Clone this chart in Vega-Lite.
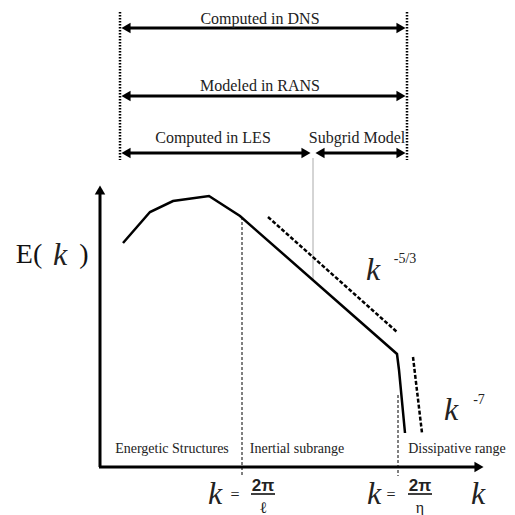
{
  "$schema": "https://vega.github.io/schema/vega-lite/v6.json",
  "width": 515,
  "height": 515,
  "autosize": "none",
  "padding": 0,
  "background": "white",
  "config": {"view": {"stroke": null}},
  "datasets": {
    "segs": [
      {"x": 120, "y": 12, "x2": 120, "y2": 160, "g": "dotted"},
      {"x": 407, "y": 12, "x2": 407, "y2": 160, "g": "dotted"},
      {"x": 128, "y": 28, "x2": 399, "y2": 28, "g": "arrow"},
      {"x": 128, "y": 96, "x2": 399, "y2": 96, "g": "arrow"},
      {"x": 128, "y": 153, "x2": 305, "y2": 153, "g": "arrow"},
      {"x": 321, "y": 153, "x2": 399, "y2": 153, "g": "arrow"},
      {"x": 313, "y": 158, "x2": 313, "y2": 279, "g": "gray"},
      {"x": 100, "y": 467, "x2": 100, "y2": 192, "g": "axis"},
      {"x": 99, "y": 467, "x2": 477, "y2": 467, "g": "axis"},
      {"x": 242, "y": 217, "x2": 242, "y2": 476, "g": "vdash"},
      {"x": 398, "y": 395, "x2": 398, "y2": 476, "g": "vdash"},
      {"x": 268, "y": 217, "x2": 397, "y2": 332, "g": "slope"},
      {"x": 413, "y": 357, "x2": 422, "y2": 433, "g": "slope"},
      {"x": 251, "y": 494, "x2": 275, "y2": 494, "g": "bar"},
      {"x": 408, "y": 494, "x2": 432, "y2": 494, "g": "bar"}
    ],
    "curve": [
      {"x": 123, "y": 243, "o": 1},
      {"x": 150, "y": 212, "o": 2},
      {"x": 173, "y": 201, "o": 3},
      {"x": 209, "y": 196, "o": 4},
      {"x": 240, "y": 216, "o": 5},
      {"x": 397, "y": 354, "o": 6},
      {"x": 399, "y": 370, "o": 7},
      {"x": 405, "y": 433, "o": 8}
    ],
    "heads": [
      {"x": 126, "y": 28, "d": "triangle-left"},
      {"x": 401, "y": 28, "d": "triangle-right"},
      {"x": 126, "y": 96, "d": "triangle-left"},
      {"x": 401, "y": 96, "d": "triangle-right"},
      {"x": 126, "y": 153, "d": "triangle-left"},
      {"x": 306, "y": 153, "d": "triangle-right"},
      {"x": 320, "y": 153, "d": "triangle-left"},
      {"x": 401, "y": 153, "d": "triangle-right"},
      {"x": 100, "y": 190, "d": "triangle-up"},
      {"x": 479, "y": 467, "d": "triangle-right"}
    ],
    "texts": [
      {"x": 260, "y": 19, "t": "Computed in DNS", "r": "top"},
      {"x": 260, "y": 86, "t": "Modeled in RANS", "r": "top"},
      {"x": 213, "y": 138, "t": "Computed in LES", "r": "top"},
      {"x": 357, "y": 138, "t": "Subgrid Model", "r": "top"},
      {"x": 172, "y": 449, "t": "Energetic Structures", "r": "region"},
      {"x": 297, "y": 449, "t": "Inertial subrange", "r": "region"},
      {"x": 457, "y": 449, "t": "Dissipative range", "r": "region"},
      {"x": 29, "y": 255, "t": "E(", "r": "big"},
      {"x": 84, "y": 255, "t": ")", "r": "big"},
      {"x": 60, "y": 255, "t": "k", "r": "k"},
      {"x": 373, "y": 270, "t": "k", "r": "k"},
      {"x": 451, "y": 410, "t": "k", "r": "k"},
      {"x": 215, "y": 494, "t": "k", "r": "k"},
      {"x": 374, "y": 494, "t": "k", "r": "k"},
      {"x": 478, "y": 494, "t": "k", "r": "k"},
      {"x": 405, "y": 259, "t": "-5/3", "r": "sup"},
      {"x": 479, "y": 400, "t": "-7", "r": "sup"},
      {"x": 235, "y": 495, "t": "=", "r": "eq"},
      {"x": 391, "y": 495, "t": "=", "r": "eq"},
      {"x": 263, "y": 486, "t": "2π", "r": "frac"},
      {"x": 420, "y": 486, "t": "2π", "r": "frac"},
      {"x": 263, "y": 508, "t": "ℓ", "r": "denom"},
      {"x": 420, "y": 508, "t": "η", "r": "denom"}
    ]
  },
  "encoding": {
    "x": {"field": "x", "type": "quantitative", "scale": {"domain": [0, 515], "nice": false, "zero": false}, "axis": null},
    "y": {"field": "y", "type": "quantitative", "scale": {"domain": [0, 515], "nice": false, "zero": false, "reverse": true}, "axis": null}
  },
  "layer": [
    {"data": {"name": "segs"}, "transform": [{"filter": "datum.g === 'dotted'"}],
     "mark": {"type": "rule", "color": "black", "strokeWidth": 2.5, "strokeDash": [1.5, 1.5]},
     "encoding": {"x2": {"field": "x2"}, "y2": {"field": "y2"}}},
    {"data": {"name": "segs"}, "transform": [{"filter": "datum.g === 'arrow'"}],
     "mark": {"type": "rule", "color": "black", "strokeWidth": 3},
     "encoding": {"x2": {"field": "x2"}, "y2": {"field": "y2"}}},
    {"data": {"name": "segs"}, "transform": [{"filter": "datum.g === 'gray'"}],
     "mark": {"type": "rule", "color": "#aaaaaa", "strokeWidth": 1},
     "encoding": {"x2": {"field": "x2"}, "y2": {"field": "y2"}}},
    {"data": {"name": "segs"}, "transform": [{"filter": "datum.g === 'axis'"}],
     "mark": {"type": "rule", "color": "black", "strokeWidth": 3},
     "encoding": {"x2": {"field": "x2"}, "y2": {"field": "y2"}}},
    {"data": {"name": "segs"}, "transform": [{"filter": "datum.g === 'vdash'"}],
     "mark": {"type": "rule", "color": "black", "strokeWidth": 1, "strokeDash": [3, 2]},
     "encoding": {"x2": {"field": "x2"}, "y2": {"field": "y2"}}},
    {"data": {"name": "segs"}, "transform": [{"filter": "datum.g === 'slope'"}],
     "mark": {"type": "rule", "color": "black", "strokeWidth": 2.5, "strokeDash": [4, 2]},
     "encoding": {"x2": {"field": "x2"}, "y2": {"field": "y2"}}},
    {"data": {"name": "segs"}, "transform": [{"filter": "datum.g === 'bar'"}],
     "mark": {"type": "rule", "color": "black", "strokeWidth": 1.5},
     "encoding": {"x2": {"field": "x2"}, "y2": {"field": "y2"}}},
    {"data": {"name": "curve"},
     "mark": {"type": "line", "color": "black", "strokeWidth": 2.5, "strokeJoin": "miter"},
     "encoding": {"order": {"field": "o"}}},
    {"data": {"name": "heads"},
     "mark": {"type": "point", "filled": true, "color": "black", "opacity": 1, "size": 110},
     "encoding": {"shape": {"field": "d", "type": "nominal", "scale": null}}},
    {"data": {"name": "texts"}, "transform": [{"filter": "datum.r === 'top'"}],
     "mark": {"type": "text", "font": "Liberation Serif", "fontSize": 16, "color": "#222"},
     "encoding": {"text": {"field": "t"}}},
    {"data": {"name": "texts"}, "transform": [{"filter": "datum.r === 'region'"}],
     "mark": {"type": "text", "font": "Liberation Serif", "fontSize": 14, "color": "#222"},
     "encoding": {"text": {"field": "t"}}},
    {"data": {"name": "texts"}, "transform": [{"filter": "datum.r === 'big'"}],
     "mark": {"type": "text", "font": "Liberation Serif", "fontSize": 28, "color": "#111"},
     "encoding": {"text": {"field": "t"}}},
    {"data": {"name": "texts"}, "transform": [{"filter": "datum.r === 'k'"}],
     "mark": {"type": "text", "font": "Liberation Serif", "fontStyle": "italic", "fontSize": 32, "color": "#222"},
     "encoding": {"text": {"field": "t"}}},
    {"data": {"name": "texts"}, "transform": [{"filter": "datum.r === 'sup'"}],
     "mark": {"type": "text", "font": "Liberation Serif", "fontSize": 14, "color": "#222"},
     "encoding": {"text": {"field": "t"}}},
    {"data": {"name": "texts"}, "transform": [{"filter": "datum.r === 'eq'"}],
     "mark": {"type": "text", "font": "Liberation Serif", "fontSize": 16, "color": "#222"},
     "encoding": {"text": {"field": "t"}}},
    {"data": {"name": "texts"}, "transform": [{"filter": "datum.r === 'frac'"}],
     "mark": {"type": "text", "font": "Liberation Sans", "fontSize": 17, "fontWeight": "bold", "color": "#222"},
     "encoding": {"text": {"field": "t"}}},
    {"data": {"name": "texts"}, "transform": [{"filter": "datum.r === 'denom'"}],
     "mark": {"type": "text", "font": "Liberation Serif", "fontSize": 16, "color": "#222"},
     "encoding": {"text": {"field": "t"}}}
  ]
}
